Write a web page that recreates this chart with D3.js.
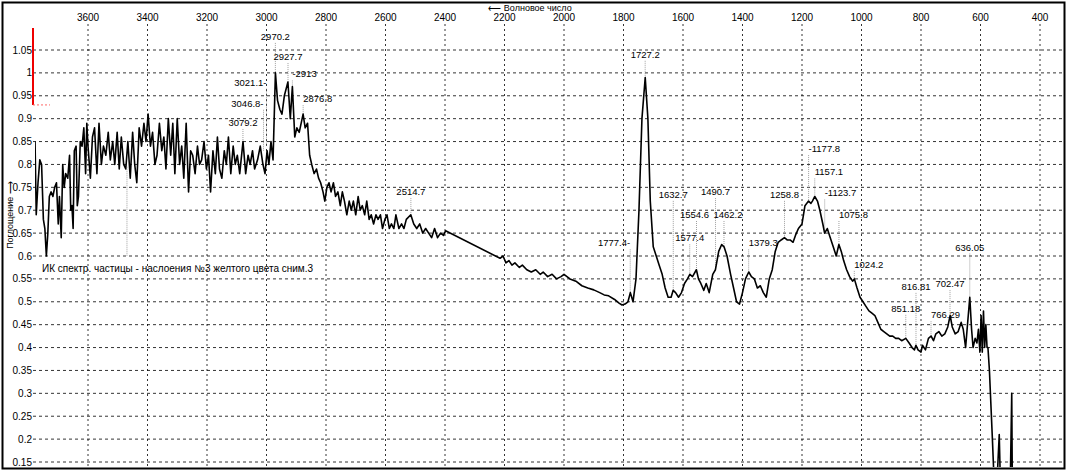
<!DOCTYPE html>
<html><head><meta charset="utf-8">
<script src="https://cdn.jsdelivr.net/npm/d3@7"></script>
<style>body{margin:0;background:#fff}text{font-family:"Liberation Sans",Arial,sans-serif;font-size:10px;fill:#000}</style>
</head><body><svg id="c" width="1069" height="473"></svg>
<script>
const xTicks=[3600,3400,3200,3000,2800,2600,2400,2200,2000,1800,1600,1400,1200,1000,800,600,400];
const yTicks=[1.05,1,0.95,0.9,0.85,0.8,0.75,0.7,0.65,0.6,0.55,0.5,0.45,0.4,0.35,0.3,0.25,0.2,0.15];
const wavenumber=[3778,3774,3768,3762,3756,3750,3745,3740,3735,3730,3724,3718,3712,3706,3700,3696,3690,3685,3680,3675,3668,3662,3658,3654,3650,3646,3640,3636,3632,3626,3620,3614,3608,3604,
3600,3592,3585,3578,3570,3563,3555,3548,3540,3532,3525,3517,3510,3502,3495,3488,3480,3473,3466,3458,3450,3443,3436,3428,3420,3412,3405,3398,3390,3383,3375,3368,3360,3352,3345,3338,3330,3322,3315,3308,3300,3292,3285,3278,3270,3262,3255,3248,3240,3232,3225,3218,3210,3202,3195,3188,3180,3172,3165,3158,3150,3142,3135,3128,3120,3112,3105,3098,3090,3079,3070,3062,3055,3047,3040,3030,3021,3012,3005,2998,2992,2985,2978,2970,2963,2955,2948,2940,2928,2920,2913,2905,2898,2890,2877,2870,2862,2855,2848,2840,2832,2825,2818,2810,2804,2797,2790,2783,2775,2768,2760,2752,2745,2738,2730,2722,2715,2708,2700,2692,2685,2678,2670,2663,2655,2648,2640,2632,2625,2617,2610,2602,2595,2587,2580,2572,2565,2555,2546,2538,2530,2515,2505,2495,2485,2475,2465,2455,2445,2435,2425,2415,2405,2398,
2215,2205,2195,2185,2175,2165,2150,2140,2125,2110,2095,2080,2070,2055,2040,2025,2010,2000,1980,1960,1940,1920,1900,1880,1865,1850,1830,1815,1805,1795,1785,1777,1768,1758,1748,1738,1727,1718,1710,1700,1690,1680,1670,1660,1650,1640,1633,1625,1615,1605,1595,1585,1577,1568,1555,1548,1540,1530,1522,1512,1500,1491,1480,1470,1462,1452,1440,1430,1420,1410,1400,1390,1379,1370,1360,1350,1340,1330,1320,1310,1300,1290,1280,1270,1259,1250,1240,1230,1222,1212,1200,1190,1178,1170,1165,1157,1148,1140,1130,1124,1115,1105,1095,1085,1076,1068,1060,1050,1040,1030,1024,1015,1005,995,985,975,965,955,945,935,925,915,905,895,885,875,865,851,840,830,822,817,810,800,795,785,775,766,758,750,740,730,720,710,702,695,685,675,665,658,650,645,636,630,625,618,612,607,602,598,594,590,586,582,578,575,570,566,560,555,545,537,533,500,495,493];
const absorbance=[0.85,0.69,0.76,0.81,0.80,0.68,0.66,0.60,0.65,0.73,0.74,0.73,0.75,0.76,0.67,0.73,0.64,0.80,0.75,0.78,0.77,0.82,0.70,0.71,0.66,0.83,0.84,0.71,0.73,0.85,0.84,0.88,0.78,0.89,
0.84,0.77,0.86,0.88,0.78,0.89,0.80,0.84,0.82,0.87,0.81,0.85,0.80,0.87,0.79,0.86,0.80,0.79,0.85,0.77,0.87,0.80,0.76,0.88,0.84,0.89,0.85,0.91,0.84,0.87,0.80,0.82,0.89,0.83,0.86,0.79,0.90,0.82,0.89,0.78,0.90,0.80,0.84,0.77,0.89,0.74,0.83,0.82,0.78,0.84,0.80,0.81,0.85,0.79,0.82,0.74,0.83,0.78,0.86,0.79,0.77,0.83,0.80,0.86,0.78,0.84,0.80,0.82,0.78,0.85,0.78,0.82,0.80,0.83,0.79,0.81,0.84,0.80,0.78,0.83,0.80,0.85,0.81,1.00,0.94,0.92,0.91,0.95,0.98,0.90,0.97,0.86,0.88,0.87,0.91,0.88,0.89,0.82,0.80,0.78,0.79,0.77,0.76,0.74,0.72,0.75,0.76,0.74,0.76,0.73,0.74,0.71,0.74,0.72,0.69,0.72,0.70,0.72,0.69,0.73,0.70,0.71,0.69,0.72,0.68,0.69,0.67,0.69,0.68,0.69,0.66,0.68,0.69,0.66,0.67,0.66,0.69,0.66,0.67,0.66,0.68,0.69,0.67,0.66,0.67,0.65,0.66,0.65,0.64,0.66,0.64,0.65,0.645,0.655,
0.595,0.60,0.585,0.59,0.58,0.585,0.575,0.58,0.57,0.565,0.57,0.56,0.565,0.555,0.56,0.55,0.555,0.56,0.55,0.545,0.535,0.53,0.526,0.52,0.515,0.513,0.505,0.497,0.493,0.495,0.50,0.52,0.50,0.55,0.70,0.90,0.99,0.90,0.72,0.62,0.60,0.58,0.56,0.53,0.51,0.51,0.525,0.52,0.51,0.52,0.54,0.55,0.56,0.555,0.57,0.55,0.54,0.525,0.54,0.52,0.56,0.57,0.61,0.625,0.62,0.60,0.56,0.53,0.50,0.495,0.52,0.55,0.565,0.555,0.55,0.53,0.535,0.52,0.51,0.55,0.57,0.61,0.63,0.635,0.64,0.635,0.635,0.63,0.645,0.66,0.67,0.71,0.72,0.715,0.72,0.73,0.72,0.70,0.67,0.65,0.66,0.64,0.62,0.60,0.625,0.61,0.59,0.57,0.555,0.545,0.55,0.53,0.51,0.50,0.49,0.48,0.475,0.47,0.455,0.44,0.435,0.43,0.425,0.425,0.42,0.42,0.415,0.42,0.41,0.40,0.395,0.405,0.395,0.39,0.405,0.395,0.42,0.425,0.415,0.43,0.435,0.425,0.43,0.445,0.47,0.445,0.43,0.435,0.455,0.44,0.40,0.44,0.51,0.44,0.40,0.42,0.41,0.44,0.39,0.47,0.39,0.48,0.40,0.45,0.40,0.40,0.35,0.29,0.20,0.12,0.10,0.21,0.10,0.10,0.30,0.10];
// peak labels: text, peak wavenumber, label level (absorbance units), anchor
const peakText=["2970.2","2927.7","-2913","3021.1-","3046.8-","3079.2","2876.8","2514.7","1727.2","1777.4-","1632.7","1577.4","1554.6","1490.7","1462.2","1379.3","1258.8","-1177.8","1157.1","-1123.7","1075.8","1024.2","851.18","816.81","766.29","702.47","636.05"];
const peakWn=[2970.2,2927.7,2913,3000,3010,3079.2,2876.8,2514.7,1727.2,1777.4,1632.7,1577.4,1554.6,1490.7,1462.2,1379.3,1258.8,1177.8,1157.1,1123.7,1075.8,1024.2,851.18,816.81,766.29,702.47,636.05];
const peakLevel=[1.072,1.028,0.990,0.972,0.926,0.884,0.936,0.733,1.033,0.621,0.727,0.632,0.683,0.733,0.683,0.621,0.727,0.827,0.776,0.730,0.683,0.574,0.478,0.526,0.464,0.532,0.612];
const peakAnchor=["middle","middle","start","end","end","middle","start","middle","middle","end","middle","middle","middle","middle","middle","start","middle","start","start","start","start","start","middle","middle","start","middle","middle"];
const peakDx=[0,0,0,0,0,0,0,0,0,0,0,0,-2,0,4,0,0,0,0,0,0,0,0,0,0,0,0];
const peakTarget=[1.0,0.98,0.97,0.84,0.83,0.85,0.91,0.69,0.99,0.52,0.525,0.56,0.57,0.57,0.62,0.565,0.64,0.72,0.73,0.65,0.625,0.55,0.42,0.405,0.425,0.47,0.51];
const legendText="ИК спектр. частицы - наслоения №3  желтого цвета  сним.3";

const svg=d3.select("#c");
const L=35,R=1062,T=28,B=467;
const x=d3.scaleLinear().domain([3600,400]).range([88,1040]);
const y=d3.scaleLinear().domain([1.05,0.15]).range([50,462]);
svg.append("rect").attr("x",2.5).attr("y",2.5).attr("width",1062).attr("height",466).attr("fill","none").attr("stroke","#000").attr("stroke-width",2);
svg.append("defs").append("clipPath").attr("id","cp").append("rect").attr("x",L).attr("y",T).attr("width",R-L).attr("height",B-T);
const g=svg.append("g");
g.selectAll(".vg").data(xTicks).join("line").attr("x1",d=>x(d)).attr("x2",d=>x(d)).attr("y1",T-4).attr("y2",B).attr("stroke","#000").attr("stroke-width",0.8).attr("stroke-dasharray","2,3");
g.selectAll(".hg").data(yTicks).join("line").attr("x1",L-2).attr("x2",R).attr("y1",d=>y(d)).attr("y2",d=>y(d)).attr("stroke","#000").attr("stroke-width",0.8).attr("stroke-dasharray","3,3");
g.selectAll(".xt").data(xTicks).join("text").attr("x",d=>x(d)).attr("y",21).attr("text-anchor","middle").text(d=>d);
g.selectAll(".yt").data(yTicks).join("text").attr("x",L-3).attr("y",d=>y(d)+3.5).attr("text-anchor","end").text(d=>d);
svg.append("text").attr("x",530).attr("y",11).attr("text-anchor","middle").style("font-size","9px").text("⟵ Волновое число");
svg.append("text").attr("transform","translate(13,215) rotate(-90)").attr("text-anchor","middle").style("font-size","9px").text("Поглощение ⟶");
svg.append("line").attr("x1",33).attr("x2",33).attr("y1",y(1.098)).attr("y2",y(0.93)).attr("stroke","#e00").attr("stroke-width",2);
svg.append("line").attr("x1",33).attr("x2",50).attr("y1",y(0.93)).attr("y2",y(0.93)).attr("stroke","#f66").attr("stroke-width",1).attr("stroke-dasharray","2,2");
const lead=svg.append("g").attr("stroke","#777").attr("stroke-width",0.7).attr("stroke-dasharray","1,1");
peakText.forEach((t,i)=>{
  const px=x(peakWn[i]);
  lead.append("line").attr("x1",px).attr("x2",px).attr("y1",y(peakLevel[i])+3).attr("y2",y(peakTarget[i])).attr("stroke","#777");
});
const pts=wavenumber.map((w,i)=>[w,absorbance[i]]);
svg.append("path").attr("clip-path","url(#cp)").datum(pts).attr("fill","none").attr("stroke","#000").attr("stroke-width",1.6).attr("stroke-linejoin","round")
 .attr("d",d3.line().x(d=>x(d[0])).y(d=>y(d[1])));
peakText.forEach((t,i)=>{
  svg.append("text").attr("x",x(peakWn[i])).attr("dx",peakDx[i]).attr("y",y(peakLevel[i])).attr("text-anchor",peakAnchor[i]).style("font-size","9.5px").text(t);
});
svg.append("line").attr("x1",x(3469)).attr("x2",x(3469)).attr("y1",y(0.795)).attr("y2",y(0.6)).attr("stroke","#777").attr("stroke-width",0.7).attr("stroke-dasharray","1,1");
svg.append("text").attr("x",42).attr("y",y(0.566)).text(legendText);
</script></body></html>
